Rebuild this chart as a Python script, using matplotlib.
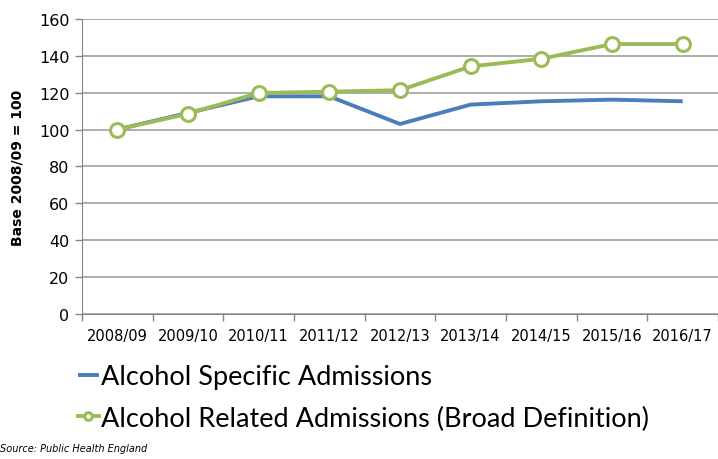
import matplotlib
matplotlib.use("Agg")
import matplotlib.pyplot as plt

years = ["2008/09", "2009/10", "2010/11", "2011/12", "2012/13",
         "2013/14", "2014/15", "2015/16", "2016/17"]
specific = [100, 109, 118, 118, 103, 113.5, 115.3, 116.2, 115.3]
related = [100, 108.5, 119.8, 120.5, 121.3, 134.2, 138.3, 146.3, 146.3]
series_names = ["Alcohol Specific Admissions",
                "Alcohol Related Admissions (Broad Definition)"]
yticks = [0, 20, 40, 60, 80, 100, 120, 140, 160]

fig = plt.figure(figsize=(7.18, 4.60), dpi=100)
ax = fig.add_axes([0.114, 0.315, 0.886, 0.642])

x = list(range(len(years)))
blue = "#4a7ebb"
green = "#9bbb59"
l1, = ax.plot(x, specific, color=blue, lw=2.8, solid_capstyle="butt", zorder=3)
l2, = ax.plot(x, related, color=green, lw=2.8, marker="o", markersize=10,
              markerfacecolor="white", markeredgecolor=green, markeredgewidth=2.2,
              zorder=4)

ax.set_xlim(-0.5, len(years) - 0.5)
ax.set_ylim(0, 160)
ax.set_yticks(yticks)
ax.set_yticklabels([str(v) for v in yticks], fontsize=11.5, family="DejaVu Sans")
ax.set_xticks(x)
ax.set_xticklabels(years, fontsize=10.5, family="DejaVu Sans")
ax.set_xticks([i - 0.5 for i in range(len(years) + 1)], minor=True)
ax.tick_params(axis="x", which="major", length=0, pad=10)
ax.tick_params(axis="x", which="minor", length=5, color="#868686", width=1)
ax.tick_params(axis="y", length=5, color="#868686", width=1, pad=4)
ax.grid(axis="y", color="#a6a6a6", lw=1.3)
ax.set_axisbelow(True)
for s in ["top", "right"]:
    ax.spines[s].set_visible(False)
ax.spines["left"].set_color("#868686")
ax.spines["bottom"].set_color("#868686")
ax.set_ylabel("Base 2008/09 = 100", fontsize=10, fontweight="bold", labelpad=10)

leg = fig.legend([l1, l2], series_names, loc="upper left",
                 bbox_to_anchor=(0.093, 0.23), frameon=False,
                 handlelength=0.8, handletextpad=0.05, labelspacing=0.62,
                 borderpad=0.4, borderaxespad=0,
                 prop={"family": "Lato", "size": 19.5}, markerscale=0.55)

fig.text(0.0, 0.013, "Source: Public Health England", fontsize=7,
         style="italic", ha="left", va="bottom")

fig.savefig("out.png", dpi=100)
